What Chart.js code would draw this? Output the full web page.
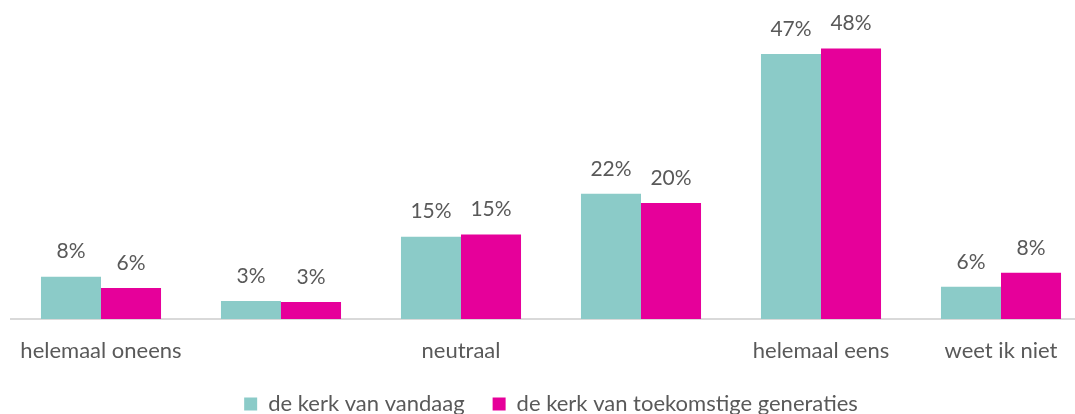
<!DOCTYPE html>
<html>
<head>
<meta charset="utf-8">
<script src="https://cdn.jsdelivr.net/npm/chart.js@4"></script>
<style>
  html, body { margin: 0; padding: 0; background: #fff; overflow: hidden; }
  #wrap { width: 1108px; height: 414px; }
</style>
</head>
<body>
<div id="wrap"><canvas id="kerkChart" width="1108" height="414"></canvas></div>
<script>
// categories (only every other one is labelled in the original)
var categories = ['helemaal oneens', '', 'neutraal', '', 'helemaal eens', 'weet ik niet'];

// measured bar heights (%)
var vandaag = [7.5, 3.2, 14.6, 22.2, 47.0, 5.7];
var toekomst = [5.5, 3.0, 15.0, 20.6, 48.0, 8.2];

// value labels as printed above the bars
var vandaagLabels = ['8%', '3%', '15%', '22%', '47%', '6%'];
var toekomstLabels = ['6%', '3%', '15%', '20%', '48%', '8%'];

var FONT = 'Lato, "Open Sans", sans-serif';
var TEXT = '#595959';

// draw the value labels above each bar
var valueLabels = {
    id: 'valueLabels',
    afterDatasetsDraw: function (chart) {
        var ctx = chart.ctx;
        var texts = [vandaagLabels, toekomstLabels];
        ctx.save();
        ctx.font = '21px ' + FONT;
        ctx.fillStyle = TEXT;
        ctx.textAlign = 'center';
        ctx.textBaseline = 'middle';
        chart.data.datasets.forEach(function (ds, i) {
            var meta = chart.getDatasetMeta(i);
            meta.data.forEach(function (bar, j) {
                ctx.fillText(texts[i][j], bar.x, bar.y - 25);
            });
        });
        ctx.restore();
    }
};

var ctx = document.getElementById('kerkChart').getContext('2d');

var myChart = new Chart(ctx, {
    type: 'bar',
    data: {
        labels: categories,
        datasets: [{
            label: 'de kerk van vandaag',
            data: vandaag,
            backgroundColor: '#8BCBC8',
            categoryPercentage: 0.667,
            barPercentage: 1.0
        }, {
            label: 'de kerk van toekomstige generaties',
            data: toekomst,
            backgroundColor: '#E6009A',
            categoryPercentage: 0.667,
            barPercentage: 1.0
        }]
    },
    options: {
        responsive: false,
        devicePixelRatio: 1,
        animation: false,
        layout: {
            padding: { left: 11, right: 17, top: 9, bottom: -11 }
        },
        scales: {
            x: {
                grid: { display: false, drawTicks: false },
                border: { display: true, color: '#D9D9D9', width: 2 },
                ticks: {
                    color: TEXT,
                    font: { family: FONT, size: 22 },
                    padding: 19,
                    autoSkip: false,
                    maxRotation: 0
                },
                afterFit: function (scale) {
                    scale.height = 46; // tighter gap to the legend
                }
            },
            y: {
                display: false,
                min: 0,
                max: 55
            }
        },
        plugins: {
            legend: {
                position: 'bottom',
                labels: {
                    color: TEXT,
                    font: { family: FONT, size: 22 },
                    boxWidth: 13,
                    boxHeight: 13,
                    padding: 28
                }
            },
            tooltip: { enabled: false }
        }
    },
    plugins: [valueLabels]
});
</script>
</body>
</html>
